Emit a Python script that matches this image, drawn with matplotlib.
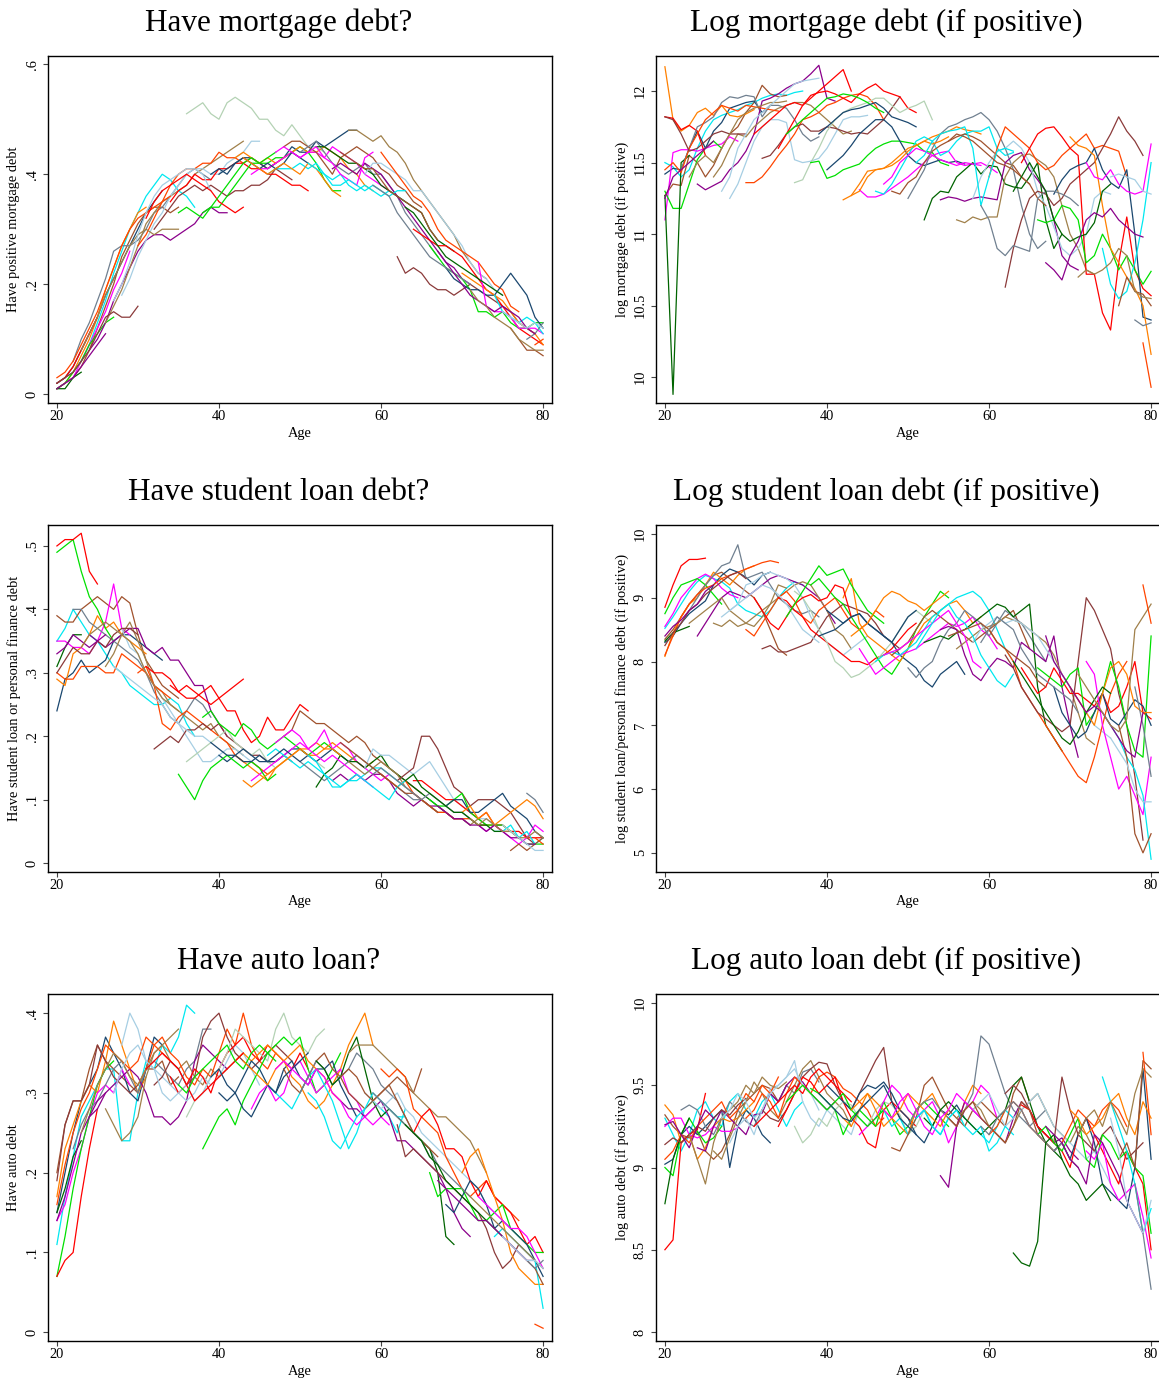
import numpy as np
import matplotlib
matplotlib.use("Agg")
import matplotlib.pyplot as plt

plt.rcParams['font.family'] = ['Liberation Serif', 'DejaVu Serif']

# age at first observation for each cohort line (values below are x100)
cohort_start = [20, 20, 20, 20, 20, 20, 20, 20,
                22, 24, 26, 28, 30, 32, 34, 36, 38, 40, 42, 44, 46, 48, 50,
                52, 54, 56, 58, 60, 62, 64, 66, 68, 70, 72, 74, 76, 78,
                20, 20, 20, 23, 27, 31, 35, 39, 43, 47, 51, 55, 59, 63, 67, 71, 75, 79]

cohort_color = ['#00e8f0', '#a0522d', '#1a476f', '#ff8000', '#ff00ff', '#00e000', '#ff0000', '#006400',
                '#708090', '#8b008b', '#a0804a', '#a6cee3', '#ff4500', '#8b3a3a', '#ff0000', '#b4d2b4',
                '#00e000', '#1a476f', '#ff8000', '#ff00ff', '#00e8f0', '#a0522d', '#708090', '#006400',
                '#8b008b', '#a0804a', '#a6cee3', '#ff4500', '#8b3a3a', '#ff0000', '#00e000', '#1a476f',
                '#ff8000', '#ff00ff', '#00e8f0', '#a0522d', '#708090',
                '#ff4500', '#8b3a3a', '#8b008b', '#a0804a', '#a6cee3', '#ff0000', '#00e000', '#1a476f',
                '#ff8000', '#ff00ff', '#00e8f0', '#a0522d', '#708090', '#006400', '#8b008b', '#a0804a',
                '#a6cee3', '#ff4500']

mort_have = [
    [2, 3, 4, 6, 9, 13, 17, 22, 26, 30, 33, 36, 38, 40, 39, 37, 36, 34],
    [1, 2, 3, 5, 8, 12, 16, 20, 25, 28, 31, 33, 34, 34, 33, 34],
    [2, 3, 5, 8, 11, 14, 18, 21, 24, 27, 30, 33, 35, 37],
    [1, 2, 4, 7, 10, 14, 19, 23, 27, 30, 33, 34],
    [1, 2, 3, 6, 9, 12, 15, 19, 22, 26],
    [1, 2, 4, 6, 9, 11, 13, 14],
    [2, 3, 5, 8, 11, 14],
    [1, 1, 3, 4],
    [6, 10, 13, 17, 21, 26, 27, 27, 28, 30, 33, 34, 36, 38, 40, 41, 40, 39],
    [8, 10, 13, 17, 20, 23, 26, 28, 29, 29, 28, 29, 30, 31, 33, 34, 33, 33],
    [13, 16, 19, 23, 27, 31, 33, 35, 36, 37, 38, 40, 41, 42, 43, 44, 45, 46],
    [18, 21, 25, 28, 31, 33, 36, 38, 40, 41, 41, 40, 40, 42, 43, 44, 46, 46],
    [27, 29, 32, 35, 38, 40, 41, 41, 42, 42, 44, 43, 43, 42, 43, 42, 41, 42],
    [30, 32, 34, 36, 37, 38, 37, 38, 37, 36, 37, 37, 38, 38, 39, 41, 40, 39],
    [35, 37, 38, 40, 39, 39, 41, 41, 42, 42, 41, 41, 40, 40, 39, 38, 38, 37],
    [51, 52, 53, 51, 50, 53, 54, 53, 52, 50, 50, 48, 47, 49, 47, 45, 45, 44],
    [33, 34, 34, 36, 38, 40, 42, 42, 42, 43, 43, 44, 45, 44, 42, 39, 37, 37],
    [40, 41, 42, 43, 43, 42, 41, 42, 43, 45, 44, 44, 46, 45, 46, 47, 48, 48],
    [43, 44, 43, 42, 43, 42, 43, 44, 45, 44, 44, 45, 44, 43, 41, 40, 38, 37],
    [40, 41, 41, 42, 43, 44, 43, 44, 44, 43, 45, 44, 43, 42, 40, 39, 38, 37],
    [40, 41, 41, 41, 42, 41, 42, 40, 39, 40, 38, 37, 38, 37, 36, 37, 36, 35],
    [45, 46, 46, 45, 44, 42, 40, 43, 44, 45, 44, 43, 41, 40, 38, 37, 35, 34],
    [44, 45, 46, 44, 42, 41, 40, 41, 42, 40, 40, 38, 36, 33, 31, 29, 27, 25],
    [45, 45, 44, 43, 42, 42, 41, 40, 38, 37, 36, 35, 34, 33, 30, 28, 27, 26],
    [41, 42, 41, 40, 42, 41, 40, 38, 36, 34, 32, 30, 28, 26, 24, 23, 21, 20],
    [48, 48, 47, 46, 47, 45, 44, 42, 39, 37, 35, 33, 31, 29, 26, 24, 22, 21],
    [40, 42, 42, 41, 40, 39, 37, 37, 35, 33, 31, 29, 27, 24, 22, 21, 19, 18],
    [44, 42, 40, 38, 36, 35, 33, 30, 28, 27, 26, 25, 24, 22, 20, 19, 16, 15],
    [25, 22, 23, 22, 20, 19, 19, 18, 19, 20, 19, 18, 17, 16, 15, 13, 12, 11],
    [30, 29, 28, 27, 27, 26, 25, 23, 21, 19, 18, 16, 14, 12, 11, 10, 9],
    [27, 25, 23, 22, 21, 19, 15, 15, 14, 15, 13, 12, 12, 13, 13],
    [23, 21, 20, 19, 19, 18, 18, 20, 22, 20, 18, 14, 12],
    [22, 21, 20, 19, 18, 17, 15, 13, 12, 11, 9],
    [24, 16, 15, 15, 14, 12, 12, 12, 11],
    [18, 15, 14, 13, 14, 13, 11],
    [12, 10, 8, 8, 7],
    [10, 11, 13],
    [3, 4, 6, 9, 12, 15, 19, 23, 27, 30, 32, 33, 34, 35, 36],
    [2, 3, 4, 6, 8, 11, 14, 15, 14, 14, 16],
    [1, 2, 3, 5, 7, 9, 11],
    [8, 11, 14, 18, 21, 24, 27, 29, 30, 29, 30, 30, 30],
    [17, 20, 24, 29, 33, 36, 38, 39, 40, 41, 41, 40, 37],
    [32, 35, 37, 38, 39, 40, 39, 38, 37, 35, 34, 33, 34],
    [33, 34, 33, 32, 34, 36, 38, 40, 42, 43, 42, 43, 44],
    [40, 41, 40, 42, 43, 42, 41, 42, 41, 42, 44, 43, 42],
    [43, 42, 41, 40, 41, 42, 41, 40, 42, 41, 39, 37, 36],
    [44, 45, 44, 43, 44, 45, 43, 42, 40, 39, 38, 43, 44],
    [42, 41, 40, 38, 38, 39, 38, 37, 38, 37, 36, 37, 37],
    [44, 43, 42, 41, 41, 39, 37, 36, 35, 34, 33, 30, 28],
    [38, 37, 36, 33, 31, 29, 27, 25, 24, 23, 22, 21, 20],
    [34, 33, 31, 29, 27, 25, 24, 23, 22, 21, 20, 19, 18],
    [26, 24, 22, 20, 18, 17, 16, 15, 16, 15, 14, 12, 11],
    [19, 17, 16, 14, 13, 12, 10, 9, 8, 8],
    [15, 14, 13, 12, 13, 12],
    [9, 10],
]

mort_log = [
    [1150, 1147, 1140, 1145, 1160, 1172, 1180, 1183, 1185, 1187, 1190, 1192, 1195, 1197, 1198, 1197, 1199, 1200],
    [1127, 1135, 1134, 1155, 1150, 1140, 1148, 1160, 1170, 1175, 1185, 1192, 1204, 1198, 1196, 1197],
    [1142, 1146, 1145, 1160, 1172, 1160, 1172, 1178, 1188, 1190, 1192, 1193, 1185, 1190],
    [1217, 1180, 1172, 1176, 1185, 1188, 1183, 1190, 1183, 1182, 1184, 1187],
    [1110, 1157, 1159, 1159, 1158, 1160, 1162, 1163, 1168, 1165],
    [1130, 1118, 1118, 1135, 1152, 1160, 1165, 1160],
    [1182, 1181, 1173, 1176, 1172, 1155],
    [1127, 988, 1150, 1155],
    [1145, 1160, 1175, 1178, 1182, 1192, 1196, 1195, 1197, 1196, 1182, 1190, 1190, 1188, 1180, 1170, 1165, 1168],
    [1135, 1131, 1134, 1137, 1145, 1150, 1158, 1170, 1193, 1195, 1198, 1202, 1205, 1207, 1212, 1218, 1195, 1193],
    [1140, 1148, 1160, 1170, 1168, 1175, 1180, 1185, 1188, 1190, 1192, 1192, 1190, 1185, 1180, 1175, 1170, 1172],
    [1125, 1135, 1150, 1165, 1175, 1180, 1180, 1178, 1152, 1150, 1151, 1153, 1160, 1170, 1180, 1182, 1182, 1183],
    [1136, 1136, 1140, 1147, 1155, 1162, 1170, 1180, 1182, 1185, 1190, 1192, 1195, 1197, 1198, 1196, 1190, 1180],
    [1153, 1155, 1162, 1170, 1175, 1177, 1172, 1172, 1175, 1174, 1172, 1170, 1171, 1170, 1175, 1180, 1188, 1196],
    [1160, 1170, 1180, 1190, 1197, 1199, 1200, 1198, 1195, 1192, 1198, 1202, 1205, 1200, 1198, 1196, 1188, 1185],
    [1136, 1138, 1150, 1160, 1172, 1180, 1185, 1188, 1190, 1192, 1195, 1195, 1190, 1185, 1188, 1190, 1193, 1180],
    [1150, 1151, 1139, 1141, 1145, 1147, 1149, 1155, 1160, 1163, 1165, 1165, 1164, 1163, 1158, 1157, 1150, 1148],
    [1145, 1150, 1155, 1162, 1170, 1175, 1180, 1180, 1175, 1165, 1155, 1150, 1148, 1150, 1152, 1150, 1151, 1149],
    [1124, 1127, 1135, 1144, 1145, 1146, 1148, 1152, 1158, 1162, 1165, 1168, 1170, 1172, 1175, 1173, 1172, 1170],
    [1131, 1126, 1126, 1128, 1132, 1136, 1140, 1145, 1150, 1155, 1157, 1158, 1150, 1148, 1149, 1150, 1147, 1143],
    [1130, 1128, 1135, 1145, 1155, 1165, 1168, 1165, 1155, 1158, 1165, 1170, 1172, 1172, 1175, 1160, 1155, 1157],
    [1130, 1128, 1136, 1140, 1150, 1158, 1162, 1165, 1168, 1170, 1168, 1165, 1160, 1155, 1150, 1148, 1140, 1135],
    [1125, 1135, 1145, 1160, 1170, 1175, 1177, 1180, 1182, 1185, 1180, 1172, 1160, 1145, 1120, 1100, 1090, 1095],
    [1110, 1125, 1130, 1129, 1140, 1145, 1150, 1142, 1148, 1147, 1135, 1133, 1132, 1140, 1150, 1110, 1090, 1100],
    [1124, 1126, 1125, 1123, 1125, 1126, 1125, 1124, 1150, 1155, 1157, 1145, 1138, 1130, 1110, 1085, 1078, 1075],
    [1110, 1108, 1112, 1110, 1112, 1112, 1140, 1150, 1155, 1156, 1152, 1148, 1140, 1120, 1100, 1090, 1075, 1072],
    [1125, 1140, 1150, 1158, 1160, 1165, 1160, 1150, 1130, 1120, 1105, 1090, 1085, 1090, 1100, 1125, 1130, 1128],
    [1140, 1160, 1175, 1170, 1165, 1160, 1150, 1145, 1148, 1155, 1160, 1165, 1170, 1160, 1162, 1160, 1158, 1140],
    [1063, 1090, 1110, 1125, 1130, 1128, 1120, 1125, 1135, 1140, 1145, 1150, 1160, 1170, 1182, 1172, 1165, 1155],
    [1150, 1160, 1170, 1174, 1175, 1168, 1160, 1155, 1072, 1072, 1045, 1033, 1080, 1112, 1075, 1062, 1057],
    [1110, 1108, 1110, 1120, 1118, 1110, 1080, 1085, 1100, 1090, 1075, 1085, 1075, 1065, 1074],
    [1128, 1138, 1145, 1148, 1150, 1160, 1145, 1136, 1132, 1145, 1100, 1042, 1040],
    [1168, 1162, 1160, 1155, 1120, 1090, 1080, 1070, 1062, 1050, 1016],
    [1150, 1140, 1138, 1145, 1135, 1130, 1128, 1130, 1163],
    [1090, 1065, 1055, 1060, 1080, 1110, 1150],
    [1050, 1070, 1060, 1058, 1050],
    [1040, 1036, 1038],
    [1145, 1150, 1143, 1160, 1170, 1180, 1185, 1190, 1188, 1186, 1190, 1189, 1188, 1187, 1186],
    [1182, 1180, 1170, 1158, 1160, 1165, 1170, 1172, 1170, 1170, 1170],
    [1125, 1140, 1145, 1150, 1155, 1160, 1165],
    [1140, 1150, 1155, 1150, 1160, 1170, 1180, 1185, 1188, 1190, 1192, 1192, 1193],
    [1130, 1140, 1160, 1170, 1180, 1185, 1190, 1195, 1200, 1205, 1207, 1208, 1209],
    [1170, 1175, 1180, 1185, 1190, 1192, 1190, 1195, 1200, 1205, 1210, 1215, 1200],
    [1170, 1175, 1180, 1185, 1190, 1195, 1196, 1198, 1197, 1195, 1192, 1188, 1185],
    [1170, 1175, 1180, 1185, 1187, 1188, 1190, 1192, 1188, 1182, 1180, 1178, 1175],
    [1127, 1130, 1140, 1145, 1146, 1150, 1155, 1160, 1162, 1165, 1163, 1165, 1168],
    [1135, 1140, 1150, 1155, 1160, 1158, 1155, 1152, 1150, 1148, 1150, 1149, 1148],
    [1150, 1155, 1165, 1170, 1172, 1173, 1175, 1160, 1120, 1140, 1158, 1160, 1158],
    [1165, 1170, 1168, 1165, 1160, 1155, 1150, 1148, 1145, 1140, 1135, 1125, 1120],
    [1120, 1110, 1090, 1085, 1092, 1090, 1088, 1125, 1130, 1130, 1128, 1125, 1120],
    [1130, 1140, 1150, 1140, 1130, 1110, 1100, 1095, 1098, 1100, 1108, 1130, 1135],
    [1080, 1075, 1068, 1085, 1095, 1110, 1115, 1112, 1118, 1110, 1105, 1100, 1098],
    [1070, 1075, 1072, 1075, 1080, 1090, 1085, 1060, 1056, 1055],
    [1140, 1142, 1140, 1138, 1130, 1128],
    [1024, 993],
]

stud_have = [
    [35, 37, 40, 38, 36, 35, 33, 31, 30, 28, 27, 26, 25, 25, 26, 25, 22, 20],
    [39, 38, 38, 40, 41, 42, 41, 40, 42, 41, 36, 32, 30, 28, 27, 26],
    [24, 29, 30, 32, 30, 31, 32, 35, 36, 36, 35, 34, 33, 32],
    [29, 28, 33, 34, 36, 39, 37, 38, 36, 35, 34, 33],
    [35, 35, 34, 34, 33, 35, 38, 44, 37, 36],
    [49, 50, 51, 46, 42, 40, 37, 35],
    [50, 51, 51, 52, 46, 44],
    [31, 34, 36, 36],
    [40, 40, 38, 37, 36, 35, 34, 33, 32, 30, 27, 25, 23, 22, 24, 26, 25, 23],
    [36, 35, 34, 35, 36, 37, 37, 34, 33, 34, 32, 32, 30, 28, 28, 24, 22, 20],
    [31, 33, 36, 38, 35, 32, 28, 27, 25, 24, 23, 22, 21, 22, 20, 19, 18, 17],
    [37, 34, 33, 30, 28, 26, 24, 22, 20, 18, 16, 16, 17, 18, 18, 17, 16, 15],
    [30, 31, 28, 22, 21, 23, 24, 23, 22, 21, 20, 19, 17, 16, 16, 15, 14, 15],
    [18, 19, 20, 19, 21, 21, 22, 21, 22, 20, 19, 18, 17, 17, 16, 16, 17, 16],
    [28, 27, 26, 26, 27, 28, 26, 24, 24, 21, 19, 20, 23, 21, 21, 23, 25, 24],
    [16, 17, 18, 19, 20, 21, 19, 18, 17, 18, 16, 15, 16, 17, 18, 17, 16, 15],
    [23, 24, 22, 21, 20, 22, 21, 19, 18, 19, 20, 19, 18, 17, 18, 19, 18, 17],
    [17, 16, 17, 18, 17, 16, 16, 16, 17, 18, 18, 17, 16, 17, 18, 17, 16, 17],
    [17, 16, 15, 14, 13, 15, 16, 17, 18, 18, 19, 18, 19, 18, 17, 16, 15, 16],
    [13, 14, 15, 16, 17, 18, 19, 18, 19, 21, 18, 19, 18, 16, 15, 14, 13, 14],
    [17, 18, 17, 16, 15, 16, 15, 14, 12, 12, 13, 13, 14, 15, 15, 14, 13, 12],
    [20, 21, 24, 23, 22, 22, 21, 20, 19, 20, 19, 17, 16, 15, 14, 13, 12, 11],
    [16, 15, 14, 13, 14, 15, 16, 17, 16, 15, 14, 13, 12, 11, 10, 10, 9, 8],
    [12, 14, 15, 17, 16, 16, 15, 16, 17, 15, 14, 13, 12, 11, 10, 9, 8, 7],
    [13, 14, 13, 14, 13, 14, 14, 13, 11, 10, 9, 10, 9, 9, 8, 7, 7, 6],
    [16, 15, 14, 15, 16, 15, 14, 12, 11, 10, 9, 8, 8, 7, 7, 6, 7, 6],
    [15, 18, 17, 17, 16, 15, 14, 15, 16, 14, 12, 10, 9, 8, 7, 7, 6, 6],
    [14, 13, 12, 13, 11, 10, 9, 8, 8, 7, 7, 7, 6, 6, 6, 5, 5, 4],
    [13, 14, 15, 20, 20, 18, 15, 12, 11, 9, 10, 10, 10, 9, 8, 6, 4, 3],
    [13, 13, 12, 11, 10, 10, 9, 8, 7, 8, 6, 6, 5, 5, 4, 4, 4],
    [10, 9, 9, 10, 11, 8, 7, 6, 6, 6, 5, 4, 3, 3, 3],
    [9, 10, 10, 8, 8, 9, 10, 11, 9, 8, 7, 5, 4],
    [8, 9, 7, 8, 6, 7, 8, 9, 10, 9, 7],
    [6, 5, 6, 5, 4, 3, 4, 6, 5],
    [5, 5, 6, 4, 5, 3, 4],
    [2, 3, 2, 3, 4],
    [11, 10, 8],
    [30, 29, 29, 31, 31, 31, 30, 30, 33, 32, 31, 30, 28, 27, 26],
    [30, 32, 34, 33, 33, 35, 34, 36, 37, 37, 36],
    [33, 34, 36, 35, 34, 35, 36],
    [34, 36, 37, 38, 37, 36, 35, 33, 30, 28, 26, 25, 24],
    [31, 30, 29, 28, 27, 26, 25, 23, 22, 21, 20, 20, 19],
    [31, 30, 30, 29, 27, 28, 27, 26, 25, 26, 27, 28, 29],
    [14, 12, 10, 13, 15, 16, 17, 16, 15, 16, 15, 13, 14],
    [19, 18, 17, 17, 16, 16, 17, 16, 17, 18, 17, 16, 17],
    [13, 12, 13, 14, 15, 16, 17, 18, 17, 17, 18, 18, 17],
    [19, 20, 21, 20, 18, 17, 16, 17, 16, 15, 14, 13, 12],
    [17, 16, 14, 13, 12, 13, 14, 13, 12, 11, 10, 12, 13],
    [19, 18, 17, 16, 15, 14, 13, 12, 11, 11, 10, 9, 8],
    [14, 15, 14, 13, 12, 11, 10, 11, 10, 9, 8, 8, 7],
    [13, 14, 12, 11, 10, 9, 8, 8, 7, 6, 6, 5, 5],
    [9, 8, 7, 7, 6, 6, 5, 6, 5, 4, 4, 3, 3],
    [7, 6, 7, 6, 5, 5, 4, 4, 5, 4],
    [6, 5, 4, 3, 2, 2],
    [4, 3],
]

stud_log = [
    [852, 870, 890, 910, 925, 935, 930, 925, 915, 890, 880, 875, 870, 880, 900, 915, 925, 920],
    [835, 850, 870, 890, 905, 920, 935, 940, 930, 920, 910, 900, 880, 850, 820, 810],
    [830, 840, 860, 875, 885, 895, 920, 935, 945, 940, 932, 920, 935, 940],
    [808, 845, 870, 890, 900, 920, 940, 930, 920, 935, 945, 950],
    [855, 875, 900, 915, 930, 937, 930, 915, 905, 900],
    [875, 900, 920, 925, 930, 920, 905, 890],
    [885, 920, 950, 960, 960, 962],
    [832, 845, 850, 855],
    [860, 880, 900, 920, 935, 950, 955, 983, 930, 935, 940, 920, 900, 890, 880, 875, 880, 870],
    [840, 860, 880, 900, 910, 905, 900, 910, 920, 930, 935, 930, 925, 920, 910, 900, 880, 860],
    [860, 855, 865, 855, 860, 870, 880, 890, 900, 910, 920, 925, 920, 900, 880, 850, 840, 820],
    [880, 890, 920, 925, 935, 940, 935, 930, 920, 900, 870, 850, 830, 820, 810, 820, 830, 840],
    [850, 840, 860, 880, 900, 910, 895, 870, 860, 880, 890, 900, 880, 860, 850, 860, 880, 870],
    [820, 825, 815, 815, 820, 825, 830, 850, 870, 880, 890, 885, 880, 875, 860, 840, 830, 820],
    [900, 895, 880, 870, 850, 840, 830, 820, 810, 800, 800, 795, 805, 810, 820, 835, 850, 860],
    [910, 900, 880, 850, 830, 800, 790, 775, 780, 790, 800, 815, 830, 850, 870, 880, 870, 860],
    [920, 930, 915, 900, 890, 870, 850, 830, 810, 790, 780, 800, 820, 850, 870, 890, 910, 900],
    [880, 870, 860, 870, 875, 860, 850, 840, 830, 810, 800, 790, 770, 760, 780, 790, 800, 780],
    [900, 930, 860, 840, 830, 820, 810, 800, 820, 840, 860, 870, 880, 890, 895, 880, 860, 870],
    [820, 800, 780, 790, 800, 810, 815, 820, 830, 840, 850, 860, 855, 860, 870, 850, 840, 820],
    [800, 810, 815, 810, 820, 830, 850, 870, 880, 890, 900, 905, 910, 900, 880, 850, 820, 800],
    [810, 820, 830, 850, 870, 880, 870, 860, 850, 840, 830, 840, 850, 860, 870, 880, 850, 820],
    [790, 775, 790, 800, 830, 850, 860, 880, 870, 860, 840, 860, 880, 870, 860, 840, 820, 800],
    [830, 835, 840, 835, 845, 850, 860, 870, 880, 890, 885, 870, 880, 890, 760, 700, 680, 660],
    [850, 855, 850, 810, 780, 770, 790, 805, 800, 790, 830, 820, 810, 800, 840, 760, 700, 650],
    [820, 830, 840, 850, 855, 860, 870, 865, 860, 850, 840, 830, 810, 780, 760, 720, 680, 670],
    [830, 850, 860, 870, 860, 865, 860, 850, 840, 820, 800, 780, 760, 740, 720, 700, 690, 680],
    [850, 830, 820, 800, 760, 740, 720, 700, 680, 660, 640, 620, 610, 650, 700, 750, 780, 800],
    [810, 790, 760, 740, 720, 710, 700, 690, 700, 800, 900, 880, 850, 820, 750, 700, 620, 520],
    [790, 770, 750, 760, 790, 770, 750, 750, 740, 730, 750, 720, 730, 760, 800, 720, 710],
    [790, 780, 770, 760, 780, 790, 700, 720, 750, 800, 760, 700, 660, 650, 840],
    [760, 720, 700, 680, 690, 720, 750, 710, 700, 720, 740, 730, 700],
    [760, 740, 720, 700, 750, 790, 800, 780, 730, 720, 720],
    [800, 780, 700, 650, 600, 620, 590, 560, 650],
    [720, 700, 680, 650, 630, 590, 490],
    [700, 650, 530, 500, 530],
    [760, 700, 620],
    [810, 840, 870, 890, 905, 915, 920, 930, 935, 940, 945, 950, 955, 958, 955],
    [825, 845, 860, 880, 890, 905, 915, 925, 935, 940, 930],
    [840, 855, 865, 880, 890, 910, 920],
    [860, 870, 880, 890, 900, 880, 870, 860, 855, 870, 890, 920, 915],
    [870, 880, 890, 900, 910, 920, 915, 905, 890, 870, 850, 840, 830],
    [900, 880, 860, 850, 870, 890, 900, 905, 895, 900, 920, 915, 870],
    [870, 890, 910, 930, 950, 935, 940, 945, 920, 900, 880, 870, 860],
    [840, 845, 850, 860, 870, 875, 860, 850, 840, 830, 850, 870, 880],
    [840, 850, 860, 880, 900, 910, 905, 895, 890, 880, 890, 900, 910],
    [810, 815, 820, 830, 840, 850, 860, 870, 880, 860, 840, 800, 790],
    [820, 840, 860, 880, 890, 870, 860, 840, 810, 790, 770, 760, 780],
    [840, 845, 850, 855, 860, 850, 830, 820, 810, 800, 790, 770, 760],
    [830, 850, 870, 860, 850, 820, 800, 780, 770, 760, 750, 740, 720],
    [800, 780, 760, 740, 720, 700, 680, 670, 690, 720, 740, 760, 750],
    [840, 800, 780, 760, 740, 720, 730, 720, 700, 680, 660, 650, 720],
    [780, 760, 740, 720, 700, 690, 710, 850, 870, 890],
    [680, 660, 640, 600, 580, 580],
    [920, 860],
]

auto_have = [
    [11, 17, 22, 27, 29, 31, 33, 33, 24, 24, 30, 34, 33, 36, 35, 37, 41, 40],
    [20, 26, 29, 29, 33, 36, 34, 33, 32, 31, 30, 33, 33, 34, 31, 32],
    [15, 20, 25, 29, 31, 33, 37, 35, 33, 30, 29, 33, 37, 36],
    [17, 23, 26, 29, 31, 30, 34, 39, 36, 33, 30, 32],
    [14, 16, 20, 23, 27, 30, 31, 30, 33, 31],
    [7, 12, 18, 23, 27, 31, 33, 34],
    [7, 9, 10, 17, 23, 28],
    [15, 18, 22, 24],
    [23, 26, 28, 29, 31, 33, 34, 32, 30, 33, 34, 33, 32, 31, 33, 34, 38, 38],
    [27, 28, 30, 31, 32, 33, 32, 30, 27, 27, 26, 27, 29, 34, 36, 35, 34, 33],
    [28, 26, 24, 25, 27, 32, 35, 36, 34, 33, 34, 32, 31, 33, 32, 33, 34, 35],
    [36, 40, 38, 34, 33, 32, 31, 30, 29, 30, 32, 31, 32, 34, 36, 35, 33, 31],
    [31, 33, 36, 37, 35, 34, 32, 31, 33, 32, 35, 38, 36, 40, 36, 34, 33, 35],
    [31, 32, 34, 33, 31, 32, 37, 39, 40, 37, 35, 34, 33, 34, 35, 36, 35, 34],
    [32, 30, 31, 33, 32, 30, 33, 35, 36, 37, 35, 34, 36, 35, 34, 33, 35, 33],
    [27, 29, 30, 32, 33, 35, 38, 37, 36, 35, 34, 38, 40, 37, 36, 35, 37, 38],
    [23, 25, 27, 28, 26, 29, 31, 33, 35, 36, 37, 36, 37, 33, 30, 31, 33, 35],
    [30, 29, 30, 28, 27, 29, 31, 30, 33, 34, 32, 31, 33, 33, 34, 31, 29, 27],
    [34, 35, 34, 35, 36, 35, 34, 32, 31, 29, 28, 29, 31, 33, 36, 38, 40, 36],
    [28, 30, 31, 29, 30, 33, 34, 32, 30, 31, 32, 33, 30, 29, 27, 26, 27, 26],
    [31, 30, 29, 28, 30, 32, 33, 31, 29, 26, 23, 25, 28, 29, 28, 27, 25, 28],
    [33, 31, 30, 32, 34, 35, 33, 32, 30, 29, 28, 29, 30, 31, 32, 31, 30, 33],
    [30, 32, 34, 33, 31, 32, 33, 35, 34, 33, 31, 30, 29, 27, 25, 24, 23, 21],
    [34, 33, 31, 32, 35, 37, 33, 29, 27, 28, 27, 26, 25, 24, 23, 20, 12, 11],
    [30, 29, 28, 28, 27, 28, 29, 27, 24, 24, 23, 22, 21, 20, 18, 15, 13, 12],
    [35, 36, 36, 36, 35, 34, 33, 32, 30, 29, 28, 27, 27, 26, 25, 24, 22, 20],
    [30, 29, 28, 29, 30, 28, 27, 25, 24, 23, 22, 21, 20, 19, 18, 16, 15, 14],
    [33, 32, 33, 32, 28, 27, 26, 25, 22, 20, 18, 17, 18, 19, 17, 16, 15, 14],
    [26, 22, 23, 22, 21, 20, 19, 18, 17, 16, 15, 13, 10, 8, 9, 11, 10, 9],
    [25, 27, 28, 26, 23, 23, 22, 19, 17, 19, 17, 16, 15, 13, 11, 12, 10],
    [20, 17, 18, 18, 18, 16, 14, 14, 15, 16, 13, 12, 11, 10, 10],
    [16, 15, 17, 19, 18, 16, 13, 14, 13, 12, 11, 9, 7],
    [20, 22, 23, 20, 17, 14, 10, 8, 7, 6, 6],
    [17, 16, 15, 14, 13, 13, 12, 10, 8],
    [12, 13, 12, 11, 10, 9, 3],
    [11, 10, 9, 8, 6],
    [9, 8, 9],
    [16, 21, 25, 28, 30, 33, 36, 35, 34, 33, 34, 37, 36, 35, 34],
    [19, 26, 29, 29, 31, 36, 34, 32, 31, 30, 31],
    [14, 17, 21, 25, 27, 29, 30],
    [25, 28, 31, 33, 35, 34, 32, 31, 33, 35, 36, 37, 38],
    [30, 33, 35, 36, 34, 33, 30, 29, 30, 31, 29, 30, 32],
    [33, 34, 35, 34, 33, 31, 29, 30, 31, 32, 33, 34, 35],
    [31, 30, 32, 33, 34, 35, 36, 34, 33, 35, 36, 35, 34],
    [32, 33, 31, 30, 32, 34, 33, 31, 30, 32, 33, 34, 35],
    [34, 33, 32, 31, 33, 34, 35, 36, 34, 33, 32, 30, 29],
    [33, 34, 33, 32, 31, 33, 32, 30, 29, 27, 26, 27, 28],
    [30, 29, 27, 24, 23, 25, 27, 28, 30, 29, 28, 27, 27],
    [32, 33, 32, 30, 29, 30, 31, 29, 27, 25, 24, 23, 22],
    [30, 29, 28, 27, 26, 25, 24, 22, 21, 20, 19, 18, 17],
    [26, 25, 24, 22, 21, 19, 18, 17, 16, 15, 14, 13, 12],
    [19, 18, 17, 16, 15, 14, 14, 13, 12, 11, 10, 9, 9],
    [17, 16, 15, 14, 13, 12, 11, 10, 9, 8],
    [12, 11, 10, 9, 9, 8],
    [1, 0.5],
]

auto_log = [
    [930, 920, 910, 920, 935, 940, 930, 925, 940, 945, 935, 930, 940, 945, 935, 925, 935, 940],
    [932, 925, 920, 918, 922, 910, 905, 910, 920, 935, 940, 945, 950, 948, 940, 950],
    [902, 905, 920, 925, 920, 925, 930, 935, 900, 925, 935, 930, 920, 915],
    [938, 932, 915, 920, 905, 912, 925, 930, 928, 930, 935, 940],
    [925, 930, 930, 920, 918, 920, 925, 922, 922, 924],
    [900, 895, 920, 930, 922, 915, 918, 925],
    [850, 856, 915, 920, 923, 945],
    [878, 905, 920, 930],
    [935, 938, 935, 925, 920, 930, 940, 935, 928, 925, 935, 945, 940, 950, 945, 958, 960, 952],
    [912, 910, 925, 935, 930, 925, 920, 932, 933, 945, 940, 950, 955, 952, 945, 940, 935, 940],
    [910, 905, 918, 930, 940, 952, 945, 935, 930, 940, 950, 960, 965, 955, 945, 940, 935, 925],
    [915, 925, 930, 920, 935, 948, 950, 955, 965, 940, 930, 925, 935, 930, 925, 920, 935, 940],
    [930, 935, 945, 940, 930, 945, 955, 950, 945, 955, 958, 955, 948, 945, 940, 935, 925, 930],
    [935, 930, 928, 935, 945, 955, 960, 964, 963, 950, 940, 935, 945, 955, 965, 973, 940, 930],
    [925, 935, 945, 955, 952, 945, 950, 955, 940, 930, 925, 915, 912, 935, 940, 935, 930, 925],
    [925, 915, 920, 930, 925, 935, 940, 938, 930, 925, 935, 940, 938, 932, 920, 925, 935, 930],
    [948, 945, 940, 935, 920, 930, 935, 930, 925, 940, 930, 920, 925, 935, 940, 935, 930, 925],
    [950, 945, 940, 935, 945, 950, 948, 952, 945, 935, 930, 920, 915, 925, 935, 932, 938, 930],
    [930, 925, 935, 945, 940, 935, 930, 925, 920, 935, 940, 945, 935, 930, 925, 940, 950, 945],
    [920, 925, 930, 940, 950, 945, 935, 930, 935, 940, 930, 915, 925, 935, 940, 950, 945, 930],
    [930, 935, 925, 930, 920, 930, 935, 925, 920, 930, 935, 930, 925, 920, 915, 925, 935, 930],
    [912, 910, 920, 930, 950, 955, 945, 935, 930, 925, 935, 940, 935, 930, 925, 945, 955, 940],
    [925, 935, 940, 942, 935, 930, 925, 935, 945, 980, 975, 960, 945, 935, 930, 925, 930, 935],
    [930, 925, 935, 940, 935, 930, 925, 920, 925, 930, 935, 950, 955, 940, 925, 915, 910, 905],
    [895, 888, 925, 940, 935, 930, 925, 920, 915, 930, 940, 935, 925, 920, 915, 918, 910, 905],
    [930, 935, 940, 935, 925, 920, 915, 925, 935, 940, 945, 935, 925, 920, 915, 925, 920, 910],
    [935, 940, 945, 935, 925, 930, 935, 940, 945, 935, 925, 920, 915, 910, 905, 910, 900, 890],
    [920, 925, 935, 940, 935, 925, 920, 915, 910, 915, 925, 935, 930, 925, 935, 940, 935, 925],
    [945, 950, 945, 935, 925, 920, 915, 955, 935, 920, 915, 910, 920, 925, 915, 905, 910, 915],
    [938, 935, 925, 920, 915, 910, 900, 920, 930, 920, 910, 900, 890, 910, 900, 890, 850],
    [920, 925, 915, 910, 920, 930, 905, 900, 920, 915, 905, 910, 900, 895, 860],
    [910, 915, 905, 920, 930, 915, 890, 885, 880, 875, 900, 960, 905],
    [935, 930, 920, 925, 930, 940, 945, 930, 920, 940, 930],
    [910, 905, 915, 890, 880, 885, 890, 870, 845],
    [955, 940, 925, 910, 890, 860, 875],
    [905, 915, 900, 965, 960],
    [890, 860, 826],
    [905, 910, 920, 915, 925, 930, 935, 940, 930, 935, 945, 940, 950, 945, 955],
    [914, 918, 915, 920, 925, 922, 930, 935, 932, 938, 942],
    [926, 928, 920, 912, 925, 935, 930],
    [920, 905, 890, 915, 930, 935, 940, 950, 945, 955, 950, 948, 952],
    [930, 935, 945, 940, 930, 935, 945, 950, 955, 960, 950, 945, 935],
    [925, 930, 935, 940, 945, 950, 945, 955, 960, 955, 950, 945, 940],
    [940, 945, 950, 945, 940, 935, 940, 945, 935, 930, 925, 930, 935],
    [945, 940, 935, 930, 928, 935, 940, 945, 950, 940, 930, 925, 920],
    [935, 940, 945, 935, 925, 930, 935, 945, 940, 935, 930, 925, 935],
    [935, 930, 940, 945, 935, 925, 920, 930, 935, 945, 940, 935, 930],
    [930, 935, 925, 920, 930, 935, 925, 920, 925, 910, 915, 925, 920],
    [930, 925, 935, 940, 930, 925, 920, 915, 925, 940, 935, 920, 915],
    [925, 920, 930, 935, 940, 935, 925, 920, 915, 910, 915, 905, 900],
    [848, 842, 840, 855, 915, 920, 905, 895, 890, 880, 885, 890, 880],
    [925, 920, 915, 905, 900, 890, 920, 915, 905, 895, 880, 870, 860],
    [920, 930, 935, 925, 940, 930, 920, 945, 960, 955],
    [930, 910, 880, 870, 860, 880],
    [970, 920],
]

panels = [
    (mort_have, "Have mortgage debt?", "Have positive mortgage debt",
     (-0.016, 0.615), [0, 0.2, 0.4, 0.6], ["0", ".2", ".4", ".6"], (0, 0)),
    (mort_log, "Log mortgage debt (if positive)", "log mortgage debt (if positive)",
     (9.82, 12.245), [10, 10.5, 11, 11.5, 12], ["10", "10.5", "11", "11.5", "12"], (1, 0)),
    (stud_have, "Have student loan debt?", "Have student loan or personal finance debt",
     (-0.014, 0.533), [0, 0.1, 0.2, 0.3, 0.4, 0.5], ["0", ".1", ".2", ".3", ".4", ".5"], (0, 1)),
    (stud_log, "Log student loan debt (if positive)", "log student loan/personal finance debt (if positive)",
     (4.70, 10.14), [5, 6, 7, 8, 9, 10], ["5", "6", "7", "8", "9", "10"], (1, 1)),
    (auto_have, "Have auto loan?", "Have auto debt",
     (-0.011, 0.424), [0, 0.1, 0.2, 0.3, 0.4], ["0", ".1", ".2", ".3", ".4"], (0, 2)),
    (auto_log, "Log auto loan debt (if positive)", "log auto debt (if positive)",
     (7.945, 10.055), [8, 8.5, 9, 9.5, 10], ["8", "8.5", "9", "9.5", "10"], (1, 2)),
]

W, H = 1159, 1383
fig = plt.figure(figsize=(W / 100, H / 100), dpi=100)

col_left = [48, 656]
row_top = [56, 525, 994]
box_w, box_h = 504, 347

for data, title, ylab, ylim, yt, ytl, (c, r) in panels:
    ax = fig.add_axes([col_left[c] / W, 1 - (row_top[r] + box_h) / H, box_w / W, box_h / H])
    for start, vals, col in zip(cohort_start, data, cohort_color):
        ages = start + np.arange(len(vals))
        y = np.array(vals) / 100
        keep = ages <= 80
        ax.plot(ages[keep], y[keep], color=col, lw=0.9)
    ax.set_xlim(18.9, 81.1)
    ax.set_ylim(*ylim)
    ax.set_xticks([20, 40, 60, 80])
    ax.set_yticks(yt)
    ax.set_yticklabels(ytl)
    ax.tick_params(direction='out', length=3.6, width=0.8, color='#444444',
                   labelsize=10.4)
    ax.tick_params(axis='x', pad=1.5)
    ax.tick_params(axis='y', pad=3, labelrotation=90)
    for lab in ax.get_yticklabels():
        lab.set_va('center')
    for sp in ax.spines.values():
        sp.set_linewidth(1.0)
    ax.set_xlabel("Age", fontsize=10.4)
    ax.xaxis.set_label_coords(0.5, -30 / box_h)
    ax.xaxis.label.set_va('center')
    ax.set_ylabel(ylab, fontsize=10.4)
    ax.yaxis.set_label_coords(-34 / box_w, 0.5)
    ax.yaxis.label.set_va('center')
    ax.text(0.457, 1 + 25 / box_h, title, transform=ax.transAxes,
            ha='center', va='baseline', fontsize=22.5)

fig.savefig("out.png", dpi=100)
